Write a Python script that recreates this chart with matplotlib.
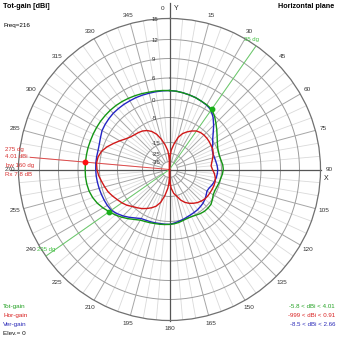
import numpy as np
import matplotlib.pyplot as plt

plt.rcParams['font.family'] = ['Liberation Sans', 'DejaVu Sans']

W = H = 339

# gain samples every 5 degrees, clockwise from the Y axis (dBi)
ang = np.arange(0, 360, 5)
tot_gain = [2.5, 2.4, 2.2, 2.0, 1.8, 1.5, 1.3, 1.0, 0.0, -1.2, -2.3, -3.3,
            -4.1, -4.7, -5.0, -5.1, -4.9, -4.6, -4.5, -4.7, -5.0, -5.3, -5.6, -5.8,
            -5.6, -4.9, -4.4, -4.3, -4.3, -4.5, -4.8, -5.0, -5.0, -4.8, -4.5, -4.3,
            -4.2, -4.1, -4.0, -3.9, -3.7, -3.5, -3.2, -2.5, -1.6, -0.7, 0.2, 1.0,
            1.9, 2.7, 3.3, 3.7, 3.9, 4.0, 4.0, 4.01, 4.0, 4.0, 3.95, 3.95,
            3.95, 3.95, 3.9, 3.85, 3.75, 3.6, 3.4, 3.2, 3.0, 2.8, 2.7, 2.6]
ver_gain = [2.5, 2.4, 2.2, 2.0, 1.8, 1.5, 1.2, 0.7, -0.6, -2.1, -3.6, -4.8,
            -5.8, -7.0, -7.3, -7.2, -7.0, -6.7, -6.5, -6.6, -6.8, -7.2, -7.7, -8.3,
            -8.5, -7.9, -7.3, -6.8, -6.5, -6.2, -6.0, -5.8, -5.5, -5.1, -4.8, -4.5,
            -4.2, -4.2, -4.2, -4.1, -4.0, -3.9, -3.7, -3.0, -2.1, -1.2, -0.4, 0.3,
            0.5, 0.6, 0.7, 0.8, 0.9, 1.0, 1.05, 1.1, 1.1, 1.1, 1.3, 1.7,
            2.2, 2.4, 2.55, 2.66, 2.66, 2.65, 2.6, 2.6, 2.55, 2.5, 2.5, 2.5]
# horizontal part has deep nulls on the Y axis, sampled finer there
hor_ang = ([0, 1, 2, 3] + list(range(5, 180, 5)) + [177, 178, 179, 180, 181, 182, 183]
           + list(range(185, 360, 5)) + [357, 358, 359])
hor_gain = [-999, -37, -31, -27,
            -22, -16, -12.5, -10.5, -9.2, -8.0, -7.0, -6.5, -6.3, -6.3, -6.4, -6.6,
            -6.7, -7.2, -7.9, -8.6, -9.1, -8.6, -7.8, -7.2, -6.9, -6.9, -7.0, -7.1,
            -7.2, -7.4, -7.9, -8.5, -9.3, -10.2, -11.3, -12.8, -14.8, -17.5, -22.5,
            -27, -31, -37, -999, -37, -31, -27,
            -22.5, -15.5, -12.2, -10.2, -8.9, -7.8, -6.7, -5.8, -4.9, -4.0, -3.3, -2.7,
            -2.0, -1.3, -0.8, -0.3, 0.3, 0.7, 0.91, 0.7, 0.1, -1.0, -2.3, -3.5,
            -4.6, -5.5, -6.1, -6.5, -7.0, -7.8, -9.0, -10.8, -13.3, -16.8, -22.5,
            -27, -31, -37]

max_dir = 275
bw_dirs = [35, 235]
ring_db = [15, 12, 9, 6, 0, -5, -15, -25, -35]

# radial scale: dBi level -> plot radius
scale_db = [-999, -35, -25, -15, -5, 0, 6, 9, 12, 15, 18]
scale_r = [0, 8, 16, 27, 52, 70, 91.5, 111, 130, 151, 172]


def fwd(v):
    return np.interp(v, scale_db, scale_r)


def inv(r):
    return np.interp(r, scale_r, scale_db)


def px(x, y):
    return x / W, 1 - y / H


GREEN, RED, BLUE = '#149614', '#d01818', '#2424c4'

fig = plt.figure(figsize=(W / 100, H / 100), dpi=100)
ax = fig.add_axes([18.5 / W, 18.5 / H, 302 / W, 302 / H], projection='polar')
ax.set_theta_zero_location('N')
ax.set_theta_direction(-1)
ax.set_rscale('function', functions=(fwd, inv))
ax.grid(False)
ax.set_xticks([])
ax.set_yticks([])
ax.spines['polar'].set_color('#707070')
ax.spines['polar'].set_linewidth(0.9)

# rings
full = np.linspace(0, 2 * np.pi, 721)
for db in ring_db[1:]:
    ax.plot(full, np.full_like(full, db), color='#9c9c9c', lw=0.7, zorder=1)

# spokes
for a in range(0, 360, 5):
    t = np.radians(a)
    if a % 90 == 0:
        ext = 17.2 if a == 0 else (16.2 if a == 270 else 15.1)
        ax.plot([t, t], [-999, ext], color='#555555', lw=0.9, zorder=2, clip_on=False)
    elif a % 15 == 0:
        ax.plot([t, t], [-35, 15], color='#a6a6a6', lw=0.7, zorder=1)
    else:
        ax.plot([t, t], [-15, 15], color='#dadada', lw=0.6, zorder=0.9)

# angle labels
for a in range(0, 360, 15):
    t = np.radians(a)
    if a == 0:
        off = (-6.5, 9.5)
    else:
        off = (8.5 * np.sin(t), 8.5 * np.cos(t))
    ax.annotate(str(a), (t, 15), xytext=off, textcoords='offset pixels',
                ha='center', va='center', fontsize=4.6, color='#333333',
                annotation_clip=False)
ax.annotate('Y', (0, 15), xytext=(6.5, 9.5), textcoords='offset pixels',
            ha='center', va='center', fontsize=5, color='#222222', annotation_clip=False)
ax.annotate('X', (np.pi / 2, 15), xytext=(6, -8.5), textcoords='offset pixels',
            ha='center', va='center', fontsize=5, color='#222222', annotation_clip=False)

# ring labels
for db in ring_db:
    ax.annotate(str(db), (0, db), xytext=(-18, -1), textcoords='offset pixels',
                ha='left', va='center', fontsize=4.4, color='#333333',
                annotation_clip=False)

# beamwidth lines
for d in bw_dirs:
    t = np.radians(d)
    ax.plot([t, t], [-999, 15], color='#6acc6a', lw=0.7, zorder=3)

# max direction line
tm = np.radians(max_dir)
ax.plot([tm, tm], [-999, 13.4], color='#e04a4a', lw=0.7, zorder=3, clip_on=False)

# patterns
ta = np.radians(np.append(ang, 360))
th = np.radians(np.append(hor_ang, 360))
ax.plot(ta, np.append(ver_gain, ver_gain[0]), color=BLUE, lw=1.0, zorder=4)
ax.plot(ta, np.append(tot_gain, tot_gain[0]), color=GREEN, lw=1.0, zorder=5)
ax.plot(th, np.append(hor_gain, hor_gain[0]), color=RED, lw=1.0, zorder=6)

# markers
ang_list = list(ang)
for d in bw_dirs:
    ax.plot(np.radians(d), tot_gain[ang_list.index(d)], 'o', color='#18b018',
            ms=3.2, zorder=7)
ax.plot(tm, tot_gain[ang_list.index(max_dir)], 'o', color='#ff1010', ms=3.2, zorder=7)

ax.set_rlim(-999, 15)

# corner texts
fig.text(*px(3, 6), 'Tot-gain [dBi]', fontsize=5.2, fontweight='bold', va='center')
fig.text(*px(3, 25), 'Freq=216', fontsize=4.5, va='center')
fig.text(*px(334, 6), 'Horizontal plane', fontsize=5.2, fontweight='bold',
         va='center', ha='right')

fig.text(*px(3, 306.5), 'Tot-gain', fontsize=4.6, color='#22a022', va='center')
fig.text(*px(3, 315.5), 'Hor-gain', fontsize=4.6, color='#d82020', va='center')
fig.text(*px(3, 324.5), 'Ver-gain', fontsize=4.6, color='#2a2ab8', va='center')
fig.text(*px(3, 333.5), 'Elev.= 0', fontsize=4.6, color='#111111', va='center')

fig.text(*px(335, 306.5), '-5.8 < dBi < 4.01', fontsize=4.4, color='#22a022',
         va='center', ha='right')
fig.text(*px(335, 315.5), '-999 < dBi < 0.91', fontsize=4.4, color='#d82020',
         va='center', ha='right')
fig.text(*px(335, 324.5), '-8.5 < dBi < 2.66', fontsize=4.4, color='#2a2ab8',
         va='center', ha='right')

# max direction notes
fig.text(*px(5, 149.5), '275 dg', fontsize=4.4, color='#d83030', va='center')
fig.text(*px(5, 157), '4.01 dBi', fontsize=4.4, color='#d83030', va='center')
fig.text(*px(6, 166), 'bw 160 dg', fontsize=4.4, color='#d83030', va='center')
fig.text(*px(5, 174.5), 'Rx 7.8 dB', fontsize=4.4, color='#d83030', va='center')

# beamwidth notes
fig.text(*px(244, 40), '35 dg', fontsize=4.3, color='#40c040', va='center')
fig.text(*px(37, 249), '235 dg', fontsize=4.3, color='#40c040', va='center')

fig.savefig('out.png', dpi=100, facecolor='white')
